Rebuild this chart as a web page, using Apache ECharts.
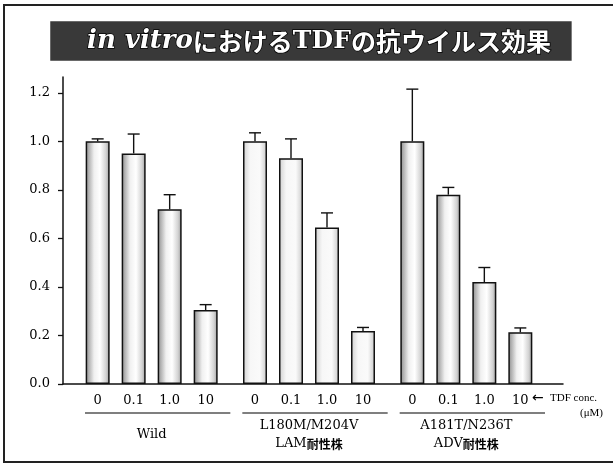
<!DOCTYPE html>
<html>
<head>
<meta charset="utf-8">
<script src="https://cdn.jsdelivr.net/npm/echarts@6/dist/echarts.min.js"></script>
<style>
  html, body { margin: 0; padding: 0; background: #fff; }
  #chart { width: 613px; height: 464px; }
</style>
</head>
<body>
<div id="chart"></div>
<script>
// Strains (groups) and TDF concentrations (µM)
const groups = ['Wild', 'L180M/M204V', 'A181T/N236T'];
const groupDrug = ['', 'LAM', 'ADV'];
const concentrations = ['0', '0.1', '1.0', '10'];

// Relative replication (mean) and SD per strain, one value per concentration
const wildMean = [1.0, 0.95, 0.72, 0.305];
const wildSD   = [0.01, 0.08, 0.06, 0.022];
const lamMean  = [1.0, 0.93, 0.645, 0.218];
const lamSD    = [0.035, 0.08, 0.06, 0.015];
const advMean  = [1.0, 0.78, 0.42, 0.213];
const advSD    = [0.215, 0.03, 0.06, 0.018];

const yTicks = [0, 0.2, 0.4, 0.6, 0.8, 1.0, 1.2];

const means = [wildMean, lamMean, advMean];
const sds = [wildSD, lamSD, advSD];

const SERIF = "'DejaVu Serif', serif";
const JP = "'Noto Sans CJK JP', sans-serif";
const BAR_W = 24;
const BAR_STEP = BAR_W * 1.5;   // barWidth + 50% gap
const Y_MAX = 1.265;

function barFill(light) {
  return new echarts.graphic.LinearGradient(0, 0, 1, 0, light ? [
    { offset: 0, color: '#cfcfcf' },
    { offset: 0.3, color: '#f7f7f7' },
    { offset: 0.7, color: '#fafafa' },
    { offset: 1, color: '#c8c8c8' }
  ] : [
    { offset: 0, color: '#8c8c8c' },
    { offset: 0.35, color: '#f0f0f0' },
    { offset: 0.6, color: '#ffffff' },
    { offset: 0.85, color: '#d2d2d2' },
    { offset: 1, color: '#9a9a9a' }
  ]);
}

const barSeries = concentrations.map((conc, c) => ({
  type: 'bar',
  name: conc,
  xAxisIndex: 1,
  yAxisIndex: 1,
  barWidth: BAR_W,
  barGap: '50%',
  data: means.map((m, g) => ({
    value: m[c],
    itemStyle: { color: barFill(g === 1), borderColor: '#111', borderWidth: 1.5 }
  })),
  label: {
    show: true,
    position: 'bottom',
    distance: 10,
    formatter: conc,
    fontFamily: SERIF,
    fontSize: 13,
    color: '#000'
  },
  emphasis: { disabled: true },
  z: 2
}));

// error bar data: [group, concentration index, mean, sd]
const errData = [];
means.forEach((m, g) => m.forEach((v, c) => errData.push([g, c, v, sds[g][c]])));

const errorSeries = {
  type: 'custom',
  xAxisIndex: 1,
  yAxisIndex: 1,
  clip: false,
  silent: true,
  z: 3,
  encode: { x: 0, y: 2 },
  data: errData,
  renderItem: function (params, api) {
    const g = api.value(0), c = api.value(1), m = api.value(2), s = api.value(3);
    const base = api.coord([g, m]);
    const top = api.coord([g, m + s]);
    const x = base[0] + (c - 1.5) * BAR_STEP;
    const st = { stroke: '#111', lineWidth: 1.4 };
    return {
      type: 'group',
      children: [
        { type: 'line', shape: { x1: x, y1: base[1], x2: x, y2: top[1] }, style: st },
        { type: 'line', shape: { x1: x - 6, y1: top[1], x2: x + 6, y2: top[1] }, style: st }
      ]
    };
  }
};

// rule under each group's concentration labels
const groupRule = {
  type: 'custom',
  xAxisIndex: 1,
  yAxisIndex: 1,
  clip: false,
  silent: true,
  encode: { x: 0, y: 1 },
  data: groups.map((_, g) => [g, 0]),
  renderItem: function (params, api) {
    const p = api.coord([api.value(0), 0]);
    const bw = api.size([1, 0])[0];
    return {
      type: 'line',
      shape: { x1: p[0] - bw / 2 + 12, y1: p[1] + 29, x2: p[0] + bw / 2, y2: p[1] + 29 },
      style: { stroke: '#555', lineWidth: 1.6 }
    };
  }
};

const chart = echarts.init(document.getElementById('chart'), null, { renderer: 'canvas' });

const titleText = { color: '#fff', textBorderColor: '#000', textBorderWidth: 1.5, lineHeight: 30 };

chart.setOption({
  animation: false,
  backgroundColor: '#fff',
  title: {
    left: 51,
    top: 20,
    padding: [6, 20, 6, 36],
    backgroundColor: '#393939',
    text: '{it|in vitro}{jp|における}{s|TDF}{jp|の抗ウイルス効果}',
    textStyle: {
      rich: {
        it: Object.assign({ fontFamily: SERIF, fontStyle: 'italic', fontWeight: 'bold', fontSize: 26 }, titleText),
        jp: Object.assign({ fontFamily: JP, fontWeight: 'bold', fontSize: 25 }, titleText),
        s:  Object.assign({ fontFamily: SERIF, fontWeight: 'bold', fontSize: 25 }, titleText)
      }
    }
  },
  grid: [
    { left: 63, right: 50, top: 77, bottom: 80 },
    { left: 73, width: 472, top: 77, bottom: 80 }
  ],
  xAxis: [
    {
      gridIndex: 0, type: 'value', min: 0, max: 1,
      axisLine: { show: true, lineStyle: { color: '#111', width: 1.5 } },
      axisTick: { show: false }, axisLabel: { show: false }, splitLine: { show: false }
    },
    {
      gridIndex: 1, type: 'category', data: groups,
      axisLine: { show: false }, axisTick: { show: false }, splitLine: { show: false },
      axisLabel: {
        margin: 51,
        verticalAlign: 'middle',
        formatter: function (value, idx) {
          if (!groupDrug[idx]) return '{s|' + value + '}';
          return '{s|' + value + '}\n{s|' + groupDrug[idx] + '}{j|耐性株}';
        },
        rich: {
          s: { fontFamily: SERIF, fontSize: 13, color: '#000', lineHeight: 18 },
          j: { fontFamily: JP, fontWeight: 'bold', fontSize: 12, color: '#000', lineHeight: 18 }
        }
      }
    }
  ],
  yAxis: [
    {
      gridIndex: 0, type: 'value', min: 0, max: Y_MAX,
      axisLine: { show: true, lineStyle: { color: '#111', width: 1.5 } },
      axisTick: { show: true, length: 5, customValues: yTicks, lineStyle: { color: '#111', width: 1.3 } },
      axisLabel: {
        customValues: yTicks, margin: 13,
        formatter: v => v.toFixed(1),
        fontFamily: SERIF, fontSize: 13, color: '#000'
      },
      splitLine: { show: false }
    },
    {
      gridIndex: 1, type: 'value', min: 0, max: Y_MAX, show: false
    }
  ],
  graphic: [
    {
      type: 'rect', silent: true,
      shape: { x: 4, y: 5, width: 640, height: 457 },
      style: { fill: 'none', stroke: '#222', lineWidth: 2 }
    },
    {
      type: 'text', left: 532, top: 391,
      style: { text: '←', fontFamily: "'DejaVu Sans', sans-serif", fontSize: 14, fill: '#000' }
    },
    {
      type: 'text', left: 550, top: 393,
      style: { text: 'TDF conc.', fontFamily: "'Liberation Serif', serif", fontSize: 11, fill: '#000' }
    },
    {
      type: 'text', left: 580, top: 408,
      style: { text: '(μM)', fontFamily: "'Liberation Serif', serif", fontSize: 11, fill: '#000' }
    }
  ],
  series: [...barSeries, errorSeries, groupRule]
});
</script>
</body>
</html>
